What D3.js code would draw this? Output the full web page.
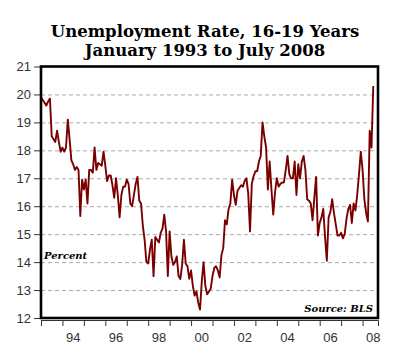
<!DOCTYPE html>
<html>
<head>
<meta charset="utf-8">
<script src="https://cdn.jsdelivr.net/npm/d3@7"></script>
<style>
  body { margin: 0; background: #fff; }
  svg { display: block; }
</style>
</head>
<body>
<div id="chart"></div>
<script>
// Teen (16-19) unemployment rate, monthly, Jan 1993 .. Jul 2008
const startYear = 1993;
const rates = [
  19.9, 19.8, 19.7, 19.6, 19.75, 19.85, 18.5, 18.4, 18.3, 18.7, 18.3, 17.95,   // 1993
  18.1, 17.95, 18.1, 19.1, 18.4, 17.65, 17.5, 17.3, 17.4, 17.3, 15.65, 16.95,  // 1994
  16.6, 16.95, 16.1, 17.3, 17.3, 17.2, 18.1, 17.3, 17.55, 17.5, 17.45, 17.95,  // 1995
  17.45, 16.9, 17.1, 17.1, 16.75, 16.3, 17.0, 16.4, 15.6, 16.4, 16.7, 16.7,    // 1996
  16.95, 16.8, 16.1, 16.0, 16.4, 16.8, 17.05, 16.2, 16.1, 15.3, 14.8, 14.0,    // 1997
  13.95, 14.45, 14.8, 13.5, 14.9, 14.8, 14.7, 15.05, 15.2, 15.7, 15.1, 13.5,   // 1998
  15.1, 14.2, 13.9, 14.0, 14.2, 13.5, 13.4, 13.9, 14.8, 13.95, 13.85, 13.4,    // 1999
  13.7, 13.15, 12.8, 12.95, 12.55, 12.3, 13.3, 14.0, 13.15, 12.85, 12.95, 13.05, // 2000
  13.5, 13.8, 13.85, 13.7, 13.45, 14.25, 14.5, 15.5, 15.35, 15.9, 16.1, 16.95, // 2001
  16.4, 16.05, 16.55, 16.65, 16.75, 16.7, 16.9, 17.0, 16.45, 15.1, 16.8, 17.07, // 2002
  17.25, 17.25, 17.6, 17.8, 19.0, 18.5, 18.1, 16.6, 17.6, 16.6, 15.7, 16.5,    // 2003
  17.0, 16.7, 16.8, 16.85, 16.85, 17.3, 17.8, 17.15, 17.0, 17.0, 17.6, 16.4,   // 2004
  17.5, 17.0, 17.6, 17.8, 17.3, 16.25, 16.2, 16.1, 15.5, 16.3, 17.05, 14.95,   // 2005
  15.4, 15.6, 15.9, 14.9, 14.05, 15.6, 15.8, 16.25, 15.75, 15.35, 14.95, 14.95, // 2006
  15.05, 14.85, 15.0, 15.55, 15.9, 16.05, 15.4, 16.1, 15.85, 16.4, 17.15, 17.95, // 2007
  17.3, 16.25, 15.75, 15.45, 18.7, 18.1, 20.3                                   // 2008
];

const yTicks = [12, 13, 14, 15, 16, 17, 18, 19, 20, 21];
const xTickYears = d3.range(1993, 2009);
const xLabelYears = [1994, 1996, 1998, 2000, 2002, 2004, 2006, 2008];

const titleLines = ['Unemployment Rate, 16-19 Years', 'January 1993 to July 2008'];

const width = 400, height = 351;
const margin = { left: 41, right: 22, top: 66.5, bottom: 33 };

const svg = d3.select('#chart')
  .append('svg')
  .attr('width', width)
  .attr('height', height);

const data = rates.map((v, i) => ({ t: startYear + i / 12, v }));

// Scales
const x = d3.scaleLinear()
  .domain([1993, 2008.72])
  .range([margin.left, width - margin.right]);

const y = d3.scaleLinear()
  .domain([12, 21])
  .range([height - margin.bottom, margin.top]);

// Title
svg.append('g')
  .selectAll('text')
  .data(titleLines)
  .enter()
  .append('text')
  .attr('x', 205)
  .attr('y', (d, i) => 36.5 + i * 19)
  .attr('text-anchor', 'middle')
  .style('font-family', '"DejaVu Serif", Georgia, serif')
  .style('font-weight', 'bold')
  .style('font-size', '16.5px')
  .text(d => d);

// Dashed grid lines
svg.append('g')
  .attr('class', 'grid')
  .attr('transform', `translate(${margin.left},0)`)
  .call(d3.axisLeft(y)
    .tickValues(yTicks.slice(1, -1))
    .tickSize(-(width - margin.left - margin.right))
    .tickFormat('')
  )
  .call(g => g.select('.domain').remove())
  .selectAll('line')
  .style('stroke', '#aaa')
  .style('stroke-width', '1px')
  .style('stroke-dasharray', '4,3');

// Y axis (ticks outside the box)
const yAxis = svg.append('g')
  .attr('transform', `translate(${margin.left},0)`)
  .call(d3.axisLeft(y).tickValues(yTicks).tickSize(7).tickPadding(3));

yAxis.select('.domain').remove();
yAxis.selectAll('line').style('stroke', '#333');
yAxis.selectAll('text')
  .style('font-family', '"Liberation Sans", Arial, sans-serif')
  .style('font-size', '13px')
  .style('fill', '#333');

// X axis: ticks at each January, labels centred in the year
const xAxis = svg.append('g')
  .attr('transform', `translate(0,${height - margin.bottom + 2})`)
  .call(d3.axisBottom(x).tickValues(xTickYears).tickSize(6).tickFormat(''));

xAxis.select('.domain').style('stroke', '#333');
xAxis.selectAll('line').style('stroke', '#333');

svg.append('g')
  .selectAll('text')
  .data(xLabelYears)
  .enter()
  .append('text')
  .attr('x', d => x(d + 0.5))
  .attr('y', height - 9)
  .attr('text-anchor', 'middle')
  .style('font-family', '"Liberation Sans", Arial, sans-serif')
  .style('font-size', '13px')
  .style('fill', '#333')
  .text(d => String(d).slice(2));

// The series
const line = d3.line()
  .x(d => x(d.t))
  .y(d => y(d.v));

svg.append('path')
  .datum(data)
  .attr('d', line)
  .attr('fill', 'none')
  .attr('stroke', '#7a0000')
  .attr('stroke-width', 1.9)
  .attr('stroke-linejoin', 'round');

// Plot frame
svg.append('rect')
  .attr('x', margin.left)
  .attr('y', margin.top)
  .attr('width', width - margin.left - margin.right)
  .attr('height', height - margin.top - margin.bottom)
  .attr('fill', 'none')
  .attr('stroke', '#000')
  .attr('stroke-width', 2.6);

// Notes inside the plot
svg.append('text')
  .attr('x', margin.left + 3)
  .attr('y', y(14) - 3)
  .style('font-family', '"DejaVu Serif", Georgia, serif')
  .style('font-style', 'italic')
  .style('font-weight', 'bold')
  .style('font-size', '10px')
  .text('Percent');

svg.append('text')
  .attr('x', width - margin.right - 5)
  .attr('y', height - margin.bottom - 6)
  .attr('text-anchor', 'end')
  .style('font-family', '"DejaVu Serif", Georgia, serif')
  .style('font-style', 'italic')
  .style('font-weight', 'bold')
  .style('font-size', '10px')
  .text('Source: BLS');
</script>
</body>
</html>
